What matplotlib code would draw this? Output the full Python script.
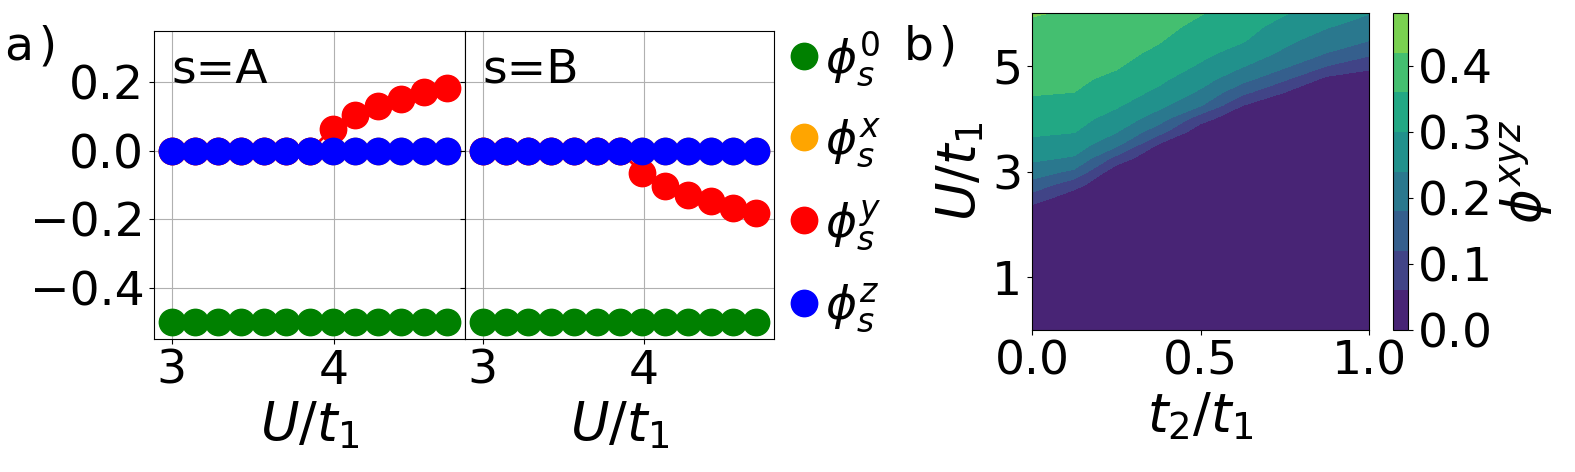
import numpy as np
import matplotlib
matplotlib.use("Agg")
import matplotlib.pyplot as plt

# ---- data ----
U_line = np.array([3.0, 3.142, 3.283, 3.425, 3.567, 3.708, 3.85, 3.992, 4.133, 4.275, 4.417, 4.558, 4.7])

phi0_A = [-0.5] * 13
phix_A = [0.0] * 13
phiy_A = [0, 0, 0, 0, 0, 0, 0, 0.064, 0.105, 0.132, 0.152, 0.171, 0.183]
phiz_A = [0.0] * 13

phi0_B = [-0.5] * 13
phix_B = [0.0] * 13
phiy_B = [0, 0, 0, 0, 0, 0, 0, -0.065, -0.103, -0.129, -0.148, -0.168, -0.182]
phiz_B = [0.0] * 13

# phase diagram phi^xyz(t2/t1, U/t1)
t2_grid = np.array([0, 0.125, 0.25, 0.375, 0.5, 0.625, 0.75, 0.875, 1.0])
U_grid = np.array([0, 2.0, 2.25, 2.5, 2.75, 3.0, 3.25, 3.5, 3.75, 4.0,
                   4.25, 4.5, 4.75, 5.0, 5.25, 5.5, 5.75, 6.0])
phi_xyz = np.array([
    [0, 0, 0, 0, 0, 0, 0, 0, 0],
    [0, 0, 0, 0, 0, 0, 0, 0, 0],
    [.030, 0, 0, 0, 0, 0, 0, 0, 0],
    [.092, .024, 0, 0, 0, 0, 0, 0, 0],
    [.158, .082, 0, 0, 0, 0, 0, 0, 0],
    [.210, .169, .022, 0, 0, 0, 0, 0, 0],
    [.252, .233, .100, .002, 0, 0, 0, 0, 0],
    [.283, .269, .192, .052, 0, 0, 0, 0, 0],
    [.310, .302, .243, .143, .020, 0, 0, 0, 0],
    [.329, .321, .277, .211, .085, .010, 0, 0, 0],
    [.349, .341, .307, .255, .184, .060, .010, 0, 0],
    [.364, .360, .328, .289, .231, .136, .060, 0, 0],
    [.374, .369, .349, .313, .264, .200, .128, .044, .024],
    [.384, .379, .365, .332, .294, .244, .190, .120, .077],
    [.393, .388, .375, .351, .314, .281, .229, .180, .135],
    [.403, .398, .385, .365, .331, .306, .257, .213, .185],
    [.413, .407, .395, .376, .348, .320, .281, .245, .214],
    [.423, .416, .405, .386, .363, .333, .304, .270, .243],
])
levels = np.arange(0, 0.49, 0.06)

W, H = 1575, 472
fig = plt.figure(figsize=(W / 100, H / 100), dpi=100)

axA = fig.add_axes([154 / W, 1 - 339 / H, 311 / W, 308 / H])
axB = fig.add_axes([465 / W, 1 - 339 / H, 309 / W, 308 / H], sharey=axA)
axC = fig.add_axes([1032 / W, 1 - 330 / H, 337 / W, 317 / H])
cax = fig.add_axes([1393 / W, 1 - 330 / H, 15 / W, 317 / H])

fs = 34
ms = 19
colors = ["green", "orange", "red", "blue"]
labels = [r"$\phi_s^0$", r"$\phi_s^x$", r"$\phi_s^y$", r"$\phi_s^z$"]

for ax, series, name in [(axA, [phi0_A, phix_A, phiy_A, phiz_A], "s=A"),
                         (axB, [phi0_B, phix_B, phiy_B, phiz_B], "s=B")]:
    for vals, c, lab in zip(series, colors, labels):
        ax.plot(U_line, vals, "-o", color=c, ms=ms, lw=2, label=lab)
    ax.grid(True)
    ax.set_xlim(2.89, 4.81)
    ax.set_ylim(-0.55, 0.35)
    ax.set_xticks([3, 4])
    ax.set_yticks([-0.4, -0.2, 0.0, 0.2])
    ax.tick_params(labelsize=fs)
    ax.set_xlabel(r"$U/t_1$", fontsize=38)
    ax.text(3.0, 0.2, name, fontsize=fs)

plt.setp(axB.get_yticklabels(), visible=False)
axB.legend(loc="center left", bbox_to_anchor=(1.058, 0.51), frameon=False,
           fontsize=fs, handlelength=0.5, handletextpad=0.2, labelspacing=0.6,
           borderaxespad=0, borderpad=0)

cs = axC.contourf(t2_grid, U_grid, phi_xyz, levels=levels, cmap="viridis",
                  vmin=-0.03, vmax=0.57)
axC.set_xlim(0, 1)
axC.set_ylim(0, 6)
axC.set_xticks([0, 0.5, 1.0])
axC.set_yticks([1, 3, 5])
axC.tick_params(labelsize=fs)
axC.set_xlabel(r"$t_2/t_1$", fontsize=38)
axC.set_ylabel(r"$U/t_1$", fontsize=38)

cbar = fig.colorbar(cs, cax=cax, ticks=[0, 0.1, 0.2, 0.3, 0.4])
cbar.ax.tick_params(labelsize=fs)
cbar.set_label(r"$\phi^{xyz}$", fontsize=38)

fig.text(5 / W, 1 - 60 / H, "a\u200a)", fontsize=fs, va="baseline")
fig.text(904 / W, 1 - 60 / H, "b\u200a)", fontsize=fs, va="baseline")

fig.savefig("out.png", dpi=100)
